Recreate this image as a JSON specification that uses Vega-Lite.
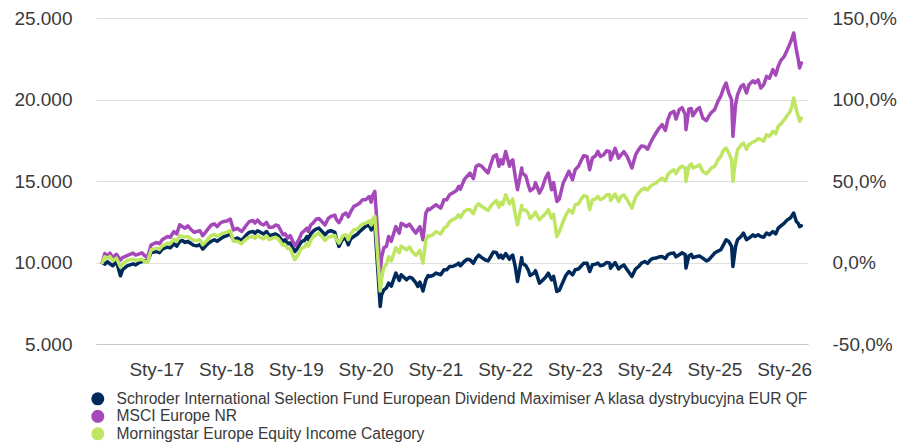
{
  "$schema": "https://vega.github.io/schema/vega-lite/v6.json",
  "autosize": {"type": "none"},
  "width": 712,
  "height": 326,
  "padding": {"left": 96, "top": 18, "right": 90, "bottom": 98},
  "background": "white",
  "config": {
    "view": {"stroke": null},
    "font": "Liberation Sans",
    "axis": {"labelFont": "Liberation Sans", "labelFontSize": 19, "labelColor": "#3a3a3a", "ticks": false, "title": null}
  },
  "data": {"values": [
    {"date": "2016-03-24", "N": 10000, "P": 10000, "G": 10000},
    {"date": "2016-04-06", "N": 9900, "P": 10550, "G": 10350},
    {"date": "2016-04-20", "N": 10050, "P": 10400, "G": 10250},
    {"date": "2016-05-03", "N": 9920, "P": 10577, "G": 10368},
    {"date": "2016-05-18", "N": 9800, "P": 10300, "G": 10100},
    {"date": "2016-06-06", "N": 10060, "P": 10500, "G": 10270},
    {"date": "2016-06-27", "N": 9183, "P": 10150, "G": 9717},
    {"date": "2016-07-08", "N": 9552, "P": 10300, "G": 9920},
    {"date": "2016-08-01", "N": 9797, "P": 10420, "G": 10123},
    {"date": "2016-09-01", "N": 9920, "P": 10577, "G": 10209},
    {"date": "2016-09-15", "N": 9850, "P": 10450, "G": 10120},
    {"date": "2016-10-03", "N": 10000, "P": 10520, "G": 10164},
    {"date": "2016-10-17", "N": 10050, "P": 10600, "G": 10200},
    {"date": "2016-11-01", "N": 10123, "P": 10420, "G": 10061},
    {"date": "2016-11-15", "N": 10050, "P": 10300, "G": 10000},
    {"date": "2016-12-05", "N": 10614, "P": 11087, "G": 10780},
    {"date": "2017-01-03", "N": 10675, "P": 11228, "G": 10884},
    {"date": "2017-01-17", "N": 10600, "P": 11150, "G": 10800},
    {"date": "2017-02-01", "N": 10823, "P": 11394, "G": 11025},
    {"date": "2017-02-15", "N": 10900, "P": 11500, "G": 11100},
    {"date": "2017-03-01", "N": 10945, "P": 11596, "G": 11190},
    {"date": "2017-03-15", "N": 10900, "P": 11550, "G": 11150},
    {"date": "2017-04-03", "N": 11148, "P": 11903, "G": 11435},
    {"date": "2017-04-18", "N": 11000, "P": 11750, "G": 11300},
    {"date": "2017-05-03", "N": 11290, "P": 12315, "G": 11640},
    {"date": "2017-05-17", "N": 11350, "P": 12200, "G": 11600},
    {"date": "2017-06-01", "N": 11228, "P": 12110, "G": 11558},
    {"date": "2017-06-15", "N": 11300, "P": 12250, "G": 11600},
    {"date": "2017-07-03", "N": 11148, "P": 12007, "G": 11435},
    {"date": "2017-07-17", "N": 11050, "P": 11850, "G": 11350},
    {"date": "2017-08-01", "N": 11025, "P": 11903, "G": 11351},
    {"date": "2017-08-17", "N": 11100, "P": 11950, "G": 11400},
    {"date": "2017-09-01", "N": 10823, "P": 11640, "G": 11087},
    {"date": "2017-09-15", "N": 11000, "P": 11850, "G": 11250},
    {"date": "2017-10-02", "N": 11190, "P": 12110, "G": 11497},
    {"date": "2017-10-16", "N": 11300, "P": 12300, "G": 11650},
    {"date": "2017-11-01", "N": 11394, "P": 12370, "G": 11730},
    {"date": "2017-11-15", "N": 11300, "P": 12200, "G": 11600},
    {"date": "2017-12-01", "N": 11435, "P": 12419, "G": 11700},
    {"date": "2017-12-15", "N": 11550, "P": 12500, "G": 11800},
    {"date": "2018-01-05", "N": 11650, "P": 12550, "G": 11850},
    {"date": "2018-01-23", "N": 11750, "P": 12665, "G": 11965},
    {"date": "2018-02-09", "N": 11400, "P": 12000, "G": 11300},
    {"date": "2018-03-01", "N": 11500, "P": 12100, "G": 11300},
    {"date": "2018-03-23", "N": 11350, "P": 11903, "G": 11148},
    {"date": "2018-04-03", "N": 11500, "P": 12050, "G": 11300},
    {"date": "2018-04-18", "N": 11700, "P": 12300, "G": 11450},
    {"date": "2018-05-02", "N": 11850, "P": 12500, "G": 11550},
    {"date": "2018-05-22", "N": 11903, "P": 12580, "G": 11596},
    {"date": "2018-06-01", "N": 11800, "P": 12419, "G": 11497},
    {"date": "2018-06-15", "N": 11950, "P": 12600, "G": 11650},
    {"date": "2018-07-02", "N": 11842, "P": 12380, "G": 11520},
    {"date": "2018-07-16", "N": 11750, "P": 12300, "G": 11450},
    {"date": "2018-08-01", "N": 11903, "P": 12456, "G": 11640},
    {"date": "2018-08-15", "N": 11650, "P": 12150, "G": 11400},
    {"date": "2018-09-03", "N": 11700, "P": 12173, "G": 11497},
    {"date": "2018-09-17", "N": 11750, "P": 12300, "G": 11550},
    {"date": "2018-10-01", "N": 11650, "P": 12253, "G": 11450},
    {"date": "2018-10-26", "N": 11300, "P": 11700, "G": 11050},
    {"date": "2018-11-06", "N": 11394, "P": 11762, "G": 11087},
    {"date": "2018-11-20", "N": 11150, "P": 11500, "G": 10850},
    {"date": "2018-12-03", "N": 11200, "P": 11650, "G": 10850},
    {"date": "2018-12-27", "N": 10675, "P": 11025, "G": 10166},
    {"date": "2019-01-07", "N": 10823, "P": 11190, "G": 10368},
    {"date": "2019-01-21", "N": 11100, "P": 11500, "G": 10650},
    {"date": "2019-02-01", "N": 11290, "P": 11805, "G": 10884},
    {"date": "2019-02-15", "N": 11350, "P": 11950, "G": 10950},
    {"date": "2019-03-01", "N": 11596, "P": 12110, "G": 11190},
    {"date": "2019-03-08", "N": 11400, "P": 11900, "G": 11000},
    {"date": "2019-03-20", "N": 11750, "P": 12300, "G": 11350},
    {"date": "2019-04-01", "N": 11903, "P": 12419, "G": 11558},
    {"date": "2019-04-17", "N": 12050, "P": 12650, "G": 11700},
    {"date": "2019-05-02", "N": 12110, "P": 12700, "G": 11805},
    {"date": "2019-05-31", "N": 11750, "P": 12350, "G": 11400},
    {"date": "2019-06-03", "N": 11700, "P": 12300, "G": 11350},
    {"date": "2019-06-20", "N": 11900, "P": 12700, "G": 11550},
    {"date": "2019-07-04", "N": 11950, "P": 12826, "G": 11596},
    {"date": "2019-07-25", "N": 11850, "P": 12900, "G": 11650},
    {"date": "2019-08-01", "N": 11500, "P": 12650, "G": 11450},
    {"date": "2019-08-15", "N": 10985, "P": 12450, "G": 11190},
    {"date": "2019-08-28", "N": 11300, "P": 12700, "G": 11450},
    {"date": "2019-09-03", "N": 11394, "P": 12900, "G": 11640},
    {"date": "2019-09-20", "N": 11500, "P": 13033, "G": 11700},
    {"date": "2019-10-03", "N": 11087, "P": 12800, "G": 11400},
    {"date": "2019-10-15", "N": 11450, "P": 13100, "G": 11750},
    {"date": "2019-11-01", "N": 11596, "P": 13440, "G": 12008},
    {"date": "2019-11-20", "N": 11750, "P": 13550, "G": 12050},
    {"date": "2019-12-02", "N": 11903, "P": 13647, "G": 12210},
    {"date": "2019-12-16", "N": 12050, "P": 13850, "G": 12350},
    {"date": "2020-01-02", "N": 12210, "P": 13850, "G": 12419},
    {"date": "2020-01-20", "N": 12300, "P": 14050, "G": 12550},
    {"date": "2020-01-31", "N": 12000, "P": 13700, "G": 12300},
    {"date": "2020-02-07", "N": 12150, "P": 14100, "G": 12650},
    {"date": "2020-02-19", "N": 12315, "P": 14360, "G": 12826},
    {"date": "2020-03-18", "N": 7300, "P": 9400, "G": 8250},
    {"date": "2020-03-25", "N": 8000, "P": 10300, "G": 9000},
    {"date": "2020-04-06", "N": 8324, "P": 10900, "G": 9700},
    {"date": "2020-04-20", "N": 8450, "P": 11000, "G": 9900},
    {"date": "2020-05-01", "N": 8735, "P": 11600, "G": 10350},
    {"date": "2020-05-15", "N": 8550, "P": 11300, "G": 10100},
    {"date": "2020-06-08", "N": 9349, "P": 12200, "G": 10900},
    {"date": "2020-06-26", "N": 8900, "P": 11800, "G": 10600},
    {"date": "2020-07-06", "N": 9250, "P": 12400, "G": 11000},
    {"date": "2020-07-20", "N": 9100, "P": 12315, "G": 10884},
    {"date": "2020-08-03", "N": 8938, "P": 12210, "G": 10780},
    {"date": "2020-08-18", "N": 9100, "P": 12350, "G": 10950},
    {"date": "2020-09-01", "N": 9042, "P": 12110, "G": 10675},
    {"date": "2020-09-21", "N": 8750, "P": 11800, "G": 10450},
    {"date": "2020-10-01", "N": 8527, "P": 12008, "G": 10577},
    {"date": "2020-10-12", "N": 8800, "P": 12200, "G": 10750},
    {"date": "2020-10-28", "N": 8250, "P": 11394, "G": 9960},
    {"date": "2020-11-12", "N": 8938, "P": 13033, "G": 11394},
    {"date": "2020-11-24", "N": 9200, "P": 13300, "G": 11650},
    {"date": "2020-12-01", "N": 9140, "P": 13236, "G": 11596},
    {"date": "2020-12-18", "N": 9200, "P": 13400, "G": 11700},
    {"date": "2021-01-04", "N": 9349, "P": 13543, "G": 11903},
    {"date": "2021-01-29", "N": 9250, "P": 13335, "G": 11750},
    {"date": "2021-02-15", "N": 9552, "P": 13850, "G": 12110},
    {"date": "2021-03-01", "N": 9552, "P": 13850, "G": 12210},
    {"date": "2021-03-16", "N": 9750, "P": 14150, "G": 12500},
    {"date": "2021-04-01", "N": 9754, "P": 14261, "G": 12622},
    {"date": "2021-04-20", "N": 9850, "P": 14400, "G": 12750},
    {"date": "2021-05-03", "N": 9960, "P": 14670, "G": 12929},
    {"date": "2021-05-12", "N": 9800, "P": 14500, "G": 12750},
    {"date": "2021-06-01", "N": 10061, "P": 15078, "G": 13132},
    {"date": "2021-06-17", "N": 10200, "P": 15300, "G": 13250},
    {"date": "2021-07-01", "N": 10166, "P": 15489, "G": 13236},
    {"date": "2021-07-19", "N": 9950, "P": 15150, "G": 13000},
    {"date": "2021-08-02", "N": 10270, "P": 15894, "G": 13440},
    {"date": "2021-08-16", "N": 10450, "P": 16000, "G": 13600},
    {"date": "2021-09-01", "N": 10300, "P": 15900, "G": 13440},
    {"date": "2021-09-20", "N": 10150, "P": 15650, "G": 13300},
    {"date": "2021-10-04", "N": 10100, "P": 15500, "G": 13200},
    {"date": "2021-10-20", "N": 10400, "P": 16100, "G": 13500},
    {"date": "2021-11-01", "N": 10650, "P": 16508, "G": 13647},
    {"date": "2021-11-17", "N": 10600, "P": 16600, "G": 13800},
    {"date": "2021-11-30", "N": 10300, "P": 15900, "G": 13400},
    {"date": "2021-12-10", "N": 10450, "P": 16300, "G": 13700},
    {"date": "2021-12-20", "N": 10250, "P": 16050, "G": 13550},
    {"date": "2022-01-04", "N": 10550, "P": 16815, "G": 14157},
    {"date": "2022-01-24", "N": 10200, "P": 15900, "G": 13600},
    {"date": "2022-02-01", "N": 10368, "P": 16200, "G": 13745},
    {"date": "2022-02-10", "N": 10450, "P": 16303, "G": 13900},
    {"date": "2022-02-24", "N": 9700, "P": 15200, "G": 12900},
    {"date": "2022-03-07", "N": 8833, "P": 14464, "G": 12315},
    {"date": "2022-03-29", "N": 10300, "P": 15800, "G": 13500},
    {"date": "2022-04-01", "N": 9960, "P": 15489, "G": 13236},
    {"date": "2022-04-20", "N": 9800, "P": 15300, "G": 13200},
    {"date": "2022-05-02", "N": 9552, "P": 14771, "G": 13033},
    {"date": "2022-05-12", "N": 9200, "P": 14400, "G": 12700},
    {"date": "2022-06-01", "N": 9349, "P": 14568, "G": 12929},
    {"date": "2022-06-09", "N": 9500, "P": 14900, "G": 13100},
    {"date": "2022-06-30", "N": 8735, "P": 14261, "G": 12622},
    {"date": "2022-07-15", "N": 8900, "P": 14600, "G": 12800},
    {"date": "2022-08-01", "N": 9100, "P": 15200, "G": 13000},
    {"date": "2022-08-15", "N": 9349, "P": 15489, "G": 13236},
    {"date": "2022-09-01", "N": 8938, "P": 14464, "G": 12725},
    {"date": "2022-09-12", "N": 9150, "P": 14900, "G": 12950},
    {"date": "2022-09-29", "N": 8220, "P": 13745, "G": 11596},
    {"date": "2022-10-12", "N": 8300, "P": 13900, "G": 11900},
    {"date": "2022-11-01", "N": 8833, "P": 14875, "G": 12517},
    {"date": "2022-11-15", "N": 9200, "P": 15200, "G": 12900},
    {"date": "2022-12-01", "N": 9447, "P": 15600, "G": 13236},
    {"date": "2022-12-20", "N": 9245, "P": 15078, "G": 13033},
    {"date": "2023-01-03", "N": 9552, "P": 15692, "G": 13543},
    {"date": "2023-01-20", "N": 9600, "P": 15900, "G": 13600},
    {"date": "2023-02-01", "N": 9754, "P": 16200, "G": 13850},
    {"date": "2023-02-16", "N": 9950, "P": 16550, "G": 14100},
    {"date": "2023-03-06", "N": 9960, "P": 16508, "G": 14052},
    {"date": "2023-03-20", "N": 9447, "P": 15692, "G": 13236},
    {"date": "2023-04-03", "N": 9859, "P": 16410, "G": 13850},
    {"date": "2023-04-20", "N": 9900, "P": 16550, "G": 13900},
    {"date": "2023-05-02", "N": 9960, "P": 16815, "G": 14052},
    {"date": "2023-05-15", "N": 9800, "P": 16500, "G": 13850},
    {"date": "2023-06-01", "N": 9859, "P": 16613, "G": 13953},
    {"date": "2023-06-16", "N": 10000, "P": 16850, "G": 14150},
    {"date": "2023-07-03", "N": 9960, "P": 16815, "G": 14157},
    {"date": "2023-07-07", "N": 9650, "P": 16300, "G": 13800},
    {"date": "2023-07-31", "N": 10000, "P": 17000, "G": 14200},
    {"date": "2023-08-18", "N": 9600, "P": 16400, "G": 13750},
    {"date": "2023-09-01", "N": 9754, "P": 16613, "G": 14052},
    {"date": "2023-09-15", "N": 9850, "P": 16800, "G": 14150},
    {"date": "2023-10-02", "N": 9552, "P": 16508, "G": 13850},
    {"date": "2023-10-27", "N": 9140, "P": 15795, "G": 13335},
    {"date": "2023-11-15", "N": 9600, "P": 16600, "G": 14000},
    {"date": "2023-12-01", "N": 9754, "P": 16920, "G": 14261},
    {"date": "2023-12-15", "N": 9950, "P": 17150, "G": 14450},
    {"date": "2024-01-02", "N": 10061, "P": 17122, "G": 14568},
    {"date": "2024-01-17", "N": 9950, "P": 16950, "G": 14450},
    {"date": "2024-02-01", "N": 10166, "P": 17331, "G": 14670},
    {"date": "2024-02-15", "N": 10250, "P": 17650, "G": 14800},
    {"date": "2024-03-01", "N": 10270, "P": 17945, "G": 14875},
    {"date": "2024-03-18", "N": 10350, "P": 18250, "G": 15050},
    {"date": "2024-04-02", "N": 10368, "P": 18455, "G": 15181},
    {"date": "2024-04-19", "N": 10250, "P": 18100, "G": 15000},
    {"date": "2024-05-02", "N": 10473, "P": 18762, "G": 15385},
    {"date": "2024-05-15", "N": 10550, "P": 19150, "G": 15550},
    {"date": "2024-06-03", "N": 10577, "P": 19272, "G": 15692},
    {"date": "2024-06-14", "N": 10350, "P": 18800, "G": 15450},
    {"date": "2024-07-01", "N": 10473, "P": 19376, "G": 15795},
    {"date": "2024-07-16", "N": 10600, "P": 19500, "G": 15900},
    {"date": "2024-08-01", "N": 10473, "P": 19069, "G": 15795},
    {"date": "2024-08-05", "N": 9656, "P": 18148, "G": 14977},
    {"date": "2024-08-20", "N": 10400, "P": 19400, "G": 15900},
    {"date": "2024-09-02", "N": 10500, "P": 19450, "G": 16050},
    {"date": "2024-09-10", "N": 10300, "P": 19000, "G": 15800},
    {"date": "2024-10-01", "N": 10368, "P": 19376, "G": 15894},
    {"date": "2024-10-15", "N": 10400, "P": 19500, "G": 16000},
    {"date": "2024-11-01", "N": 10270, "P": 18866, "G": 15587},
    {"date": "2024-11-20", "N": 10100, "P": 18700, "G": 15450},
    {"date": "2024-12-02", "N": 10166, "P": 18966, "G": 15587},
    {"date": "2024-12-16", "N": 10350, "P": 19200, "G": 15800},
    {"date": "2025-01-02", "N": 10577, "P": 19376, "G": 15894},
    {"date": "2025-01-20", "N": 10700, "P": 19900, "G": 16300},
    {"date": "2025-02-03", "N": 10780, "P": 20194, "G": 16508},
    {"date": "2025-02-18", "N": 11100, "P": 20700, "G": 16900},
    {"date": "2025-03-03", "N": 11394, "P": 21015, "G": 17024},
    {"date": "2025-03-17", "N": 11290, "P": 20402, "G": 16717},
    {"date": "2025-04-01", "N": 10985, "P": 19990, "G": 16303},
    {"date": "2025-04-08", "N": 9754, "P": 17738, "G": 14977},
    {"date": "2025-04-22", "N": 11000, "P": 19700, "G": 16300},
    {"date": "2025-05-02", "N": 11394, "P": 20297, "G": 16920},
    {"date": "2025-05-20", "N": 11600, "P": 20800, "G": 17200},
    {"date": "2025-06-02", "N": 11805, "P": 20911, "G": 17331},
    {"date": "2025-06-18", "N": 11400, "P": 20400, "G": 16950},
    {"date": "2025-07-01", "N": 11497, "P": 20911, "G": 17227},
    {"date": "2025-07-22", "N": 11700, "P": 21150, "G": 17400},
    {"date": "2025-08-01", "N": 11596, "P": 21015, "G": 17430},
    {"date": "2025-08-18", "N": 11700, "P": 21200, "G": 17600},
    {"date": "2025-09-01", "N": 11596, "P": 20707, "G": 17534},
    {"date": "2025-09-16", "N": 11550, "P": 20900, "G": 17450},
    {"date": "2025-10-01", "N": 11805, "P": 21420, "G": 17841},
    {"date": "2025-10-16", "N": 11700, "P": 21300, "G": 17750},
    {"date": "2025-11-03", "N": 11903, "P": 21832, "G": 18044},
    {"date": "2025-11-18", "N": 11750, "P": 21500, "G": 17900},
    {"date": "2025-12-01", "N": 12110, "P": 22034, "G": 18350},
    {"date": "2025-12-15", "N": 12250, "P": 22400, "G": 18500},
    {"date": "2026-01-02", "N": 12419, "P": 22648, "G": 18762},
    {"date": "2026-01-16", "N": 12600, "P": 23000, "G": 19000},
    {"date": "2026-02-02", "N": 12725, "P": 23470, "G": 19272},
    {"date": "2026-02-10", "N": 12850, "P": 23700, "G": 19550},
    {"date": "2026-02-20", "N": 13033, "P": 24084, "G": 20093},
    {"date": "2026-03-06", "N": 12517, "P": 23060, "G": 19376},
    {"date": "2026-03-16", "N": 12400, "P": 22446, "G": 18966},
    {"date": "2026-03-23", "N": 12200, "P": 21935, "G": 18660},
    {"date": "2026-04-01", "N": 12253, "P": 22240, "G": 18866}
  ]},
  "transform": [
    {"fold": ["N", "P", "G"], "as": ["key", "value"]},
    {"lookup": "key", "from": {"data": {"values": [
      {"key": "N", "series": "Schroder International Selection Fund European Dividend Maximiser A klasa dystrybucyjna EUR QF"},
      {"key": "P", "series": "MSCI Europe NR"},
      {"key": "G", "series": "Morningstar Europe Equity Income Category"}
    ]}, "key": "key", "fields": ["series"]}}
  ],
  "layer": [
    {
      "mark": {"type": "line", "strokeWidth": 3.5, "strokeJoin": "round", "strokeCap": "round"},
      "encoding": {
        "x": {
          "field": "date", "type": "temporal",
          "scale": {"type": "utc", "domain": [{"year": 2016, "month": 2, "date": 20, "utc": true}, {"year": 2026, "month": 5, "date": 6, "utc": true}]},
          "axis": {
            "values": [
              {"year": 2017, "month": 1, "date": 1, "utc": true},
              {"year": 2018, "month": 1, "date": 1, "utc": true},
              {"year": 2019, "month": 1, "date": 1, "utc": true},
              {"year": 2020, "month": 1, "date": 1, "utc": true},
              {"year": 2021, "month": 1, "date": 1, "utc": true},
              {"year": 2022, "month": 1, "date": 1, "utc": true},
              {"year": 2023, "month": 1, "date": 1, "utc": true},
              {"year": 2024, "month": 1, "date": 1, "utc": true},
              {"year": 2025, "month": 1, "date": 1, "utc": true},
              {"year": 2026, "month": 1, "date": 1, "utc": true}
            ],
            "labelExpr": "'Sty-' + utcFormat(datum.value, '%y')",
            "grid": false, "domain": true, "domainColor": "#c8c8c8", "domainWidth": 1,
            "labelPadding": 16, "labelFlush": false, "labelOverlap": false
          }
        },
        "y": {
          "field": "value", "type": "quantitative",
          "scale": {"domain": [5000, 25000], "nice": false, "zero": false},
          "axis": {
            "orient": "left", "values": [5000, 10000, 15000, 20000, 25000],
            "labelExpr": "replace(format(datum.value, ','), ',', '.')",
            "domain": false, "grid": true, "gridColor": "#dedede", "gridWidth": 1,
            "labelPadding": 24
          }
        },
        "color": {
          "field": "series", "type": "nominal",
          "scale": {
            "domain": ["Schroder International Selection Fund European Dividend Maximiser A klasa dystrybucyjna EUR QF", "MSCI Europe NR", "Morningstar Europe Equity Income Category"],
            "range": ["#002a5c", "#a548b9", "#bfe663"]
          },
          "legend": {
            "orient": "none", "legendX": -6, "legendY": 373, "title": null,
            "direction": "vertical", "padding": 0,
            "symbolType": "circle", "symbolSize": 170,
            "labelFont": "Liberation Sans", "labelFontSize": 15.6, "labelColor": "#3a3a3a",
            "labelLimit": 900, "labelOffset": 11, "rowPadding": 0.5,
            "encode": {"symbols": {"update": {"fill": {"scale": "color", "field": "value"}, "fillOpacity": {"value": 1}, "strokeWidth": {"value": 0}}}}
          }
        },
        "order": {"field": "date", "type": "temporal"}
      }
    },
    {
      "mark": {"type": "line", "opacity": 0},
      "encoding": {
        "x": {"field": "date", "type": "temporal", "scale": {"type": "utc"}},
        "y": {
          "field": "value", "type": "quantitative",
          "scale": {"domain": [5000, 25000], "nice": false, "zero": false},
          "axis": {
            "orient": "right", "values": [5000, 10000, 15000, 20000, 25000],
            "labelExpr": "replace(replace(format(datum.value / 10000 - 1, '.1%'), '.', ','), '\u2212', '-')",
            "domain": false, "grid": false, "labelPadding": 24
          }
        }
      }
    }
  ],
  "resolve": {"scale": {"y": "independent"}}
}
